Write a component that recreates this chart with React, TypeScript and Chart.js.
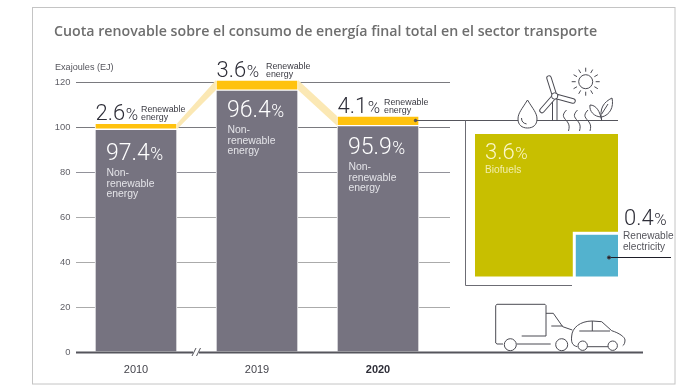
import React, { useEffect, useRef } from "react";
import { Chart, registerables } from "chart.js";

Chart.register(...registerables);

const titleText = "Cuota renovable sobre el consumo de energía final total en el sector transporte";
const unitLabel = "Exajoules (EJ)";
const years = ["2010", "2019", "2020"];
const nonRenewableEJ = [99, 116.4, 100.6];
const renewableEJ = [2.6, 4.5, 4.3];
const renewableShare = ["2.6", "3.6", "4.1"];
const nonRenewableShare = ["97.4", "96.4", "95.9"];
const yTicks = [0, 20, 40, 60, 80, 100, 120];
const biofuelShare = 3.6;
const electricityShare = 0.4;

const FONT = '"Liberation Sans", Arial, sans-serif';
const THIN = 'Roboto, "Liberation Sans", sans-serif';
const GREY = "#767380";
const YELLOW = "#FFC20E";
const BAND = "#FBE8B4";
const OLIVE = "#C8BF00";
const BLUE = "#53B2CE";
const DARK = "#2E2E38";
const LINE = "#4A4A52";

function pct(ctx: CanvasRenderingContext2D, value: string, x: number, y: number, size: number, color: string) {
  ctx.fillStyle = color;
  ctx.textAlign = "left";
  ctx.textBaseline = "alphabetic";
  ctx.font = `300 ${size}px ${THIN}`;
  ctx.fillText(value, x, y);
  const w = ctx.measureText(value).width;
  ctx.font = `300 ${size * 0.76}px ${THIN}`;
  ctx.fillText("%", x + w + 0.5, y);
}

function text(ctx: CanvasRenderingContext2D, s: string, x: number, y: number, font: string, color: string) {
  ctx.font = font;
  ctx.fillStyle = color;
  ctx.textAlign = "left";
  ctx.textBaseline = "alphabetic";
  ctx.fillText(s, x, y);
}

function stroke(ctx: CanvasRenderingContext2D, pts: number[][], color = LINE, w = 1) {
  ctx.strokeStyle = color;
  ctx.lineWidth = w;
  ctx.beginPath();
  pts.forEach((p, i) => (i ? ctx.lineTo(p[0], p[1]) : ctx.moveTo(p[0], p[1])));
  ctx.stroke();
}

function circle(ctx: CanvasRenderingContext2D, x: number, y: number, r: number, fill = "#fff") {
  ctx.beginPath();
  ctx.arc(x, y, r, 0, Math.PI * 2);
  ctx.fillStyle = fill;
  ctx.fill();
  ctx.strokeStyle = LINE;
  ctx.lineWidth = 1;
  ctx.stroke();
}

function drawEnergyIcons(ctx: CanvasRenderingContext2D) {
  ctx.save();
  ctx.beginPath();
  ctx.moveTo(527.5, 100);
  ctx.bezierCurveTo(522, 109, 518, 113, 518, 119);
  ctx.bezierCurveTo(518, 125, 522, 128, 527.5, 128);
  ctx.bezierCurveTo(533, 128, 537, 125, 537, 119);
  ctx.bezierCurveTo(537, 113, 533, 109, 527.5, 100);
  ctx.fillStyle = "#fff";
  ctx.fill();
  ctx.strokeStyle = LINE;
  ctx.lineWidth = 1;
  ctx.stroke();
  ctx.beginPath();
  ctx.arc(527.5, 118, 6, Math.PI * 0.55, Math.PI * 1.0);
  ctx.stroke();
  stroke(ctx, [[552.5, 99], [552.5, 120.5]]);
  stroke(ctx, [[557, 99], [557, 120.5]]);
  const blades = [[549, 78], [573, 101], [542, 110.5]];
  blades.forEach(([bx, by]) => {
    ctx.lineCap = "round";
    stroke(ctx, [[554.7, 96], [bx, by]], LINE, 5.5);
    stroke(ctx, [[554.7, 96], [bx, by]], "#fff", 3.5);
  });
  circle(ctx, 554.7, 96, 3.2);
  ctx.lineCap = "butt";
  ctx.beginPath();
  ctx.arc(585.7, 81.7, 7, 0, Math.PI * 2);
  ctx.strokeStyle = LINE;
  ctx.lineWidth = 1;
  ctx.stroke();
  for (let i = 0; i < 12; i++) {
    const a = (i * Math.PI) / 6 + Math.PI / 2;
    stroke(ctx, [
      [585.7 + Math.cos(a) * 10, 81.7 + Math.sin(a) * 10],
      [585.7 + Math.cos(a) * 14, 81.7 + Math.sin(a) * 14],
    ]);
  }
  [566.5, 577.5, 588].forEach((x) => {
    ctx.beginPath();
    ctx.moveTo(x, 110);
    ctx.bezierCurveTo(x - 6, 116, x - 2, 118, x + 1, 122);
    ctx.bezierCurveTo(x + 3, 125, x + 3, 127, x + 2, 131);
    ctx.strokeStyle = LINE;
    ctx.lineWidth = 1;
    ctx.stroke();
  });
  ctx.beginPath();
  ctx.moveTo(601.7, 120.5);
  ctx.bezierCurveTo(599, 108, 604, 102, 612, 98);
  ctx.bezierCurveTo(614, 107, 610, 115, 601.7, 117);
  ctx.moveTo(601.7, 120.5);
  ctx.bezierCurveTo(600, 111, 596, 105, 590, 105);
  ctx.bezierCurveTo(589, 111, 594, 117, 601.7, 117);
  ctx.moveTo(601.7, 114);
  ctx.lineTo(608, 104);
  ctx.strokeStyle = LINE;
  ctx.stroke();
  ctx.restore();
}

function drawVehicles(ctx: CanvasRenderingContext2D) {
  ctx.save();
  ctx.lineJoin = "round";
  stroke(ctx, [[521.7, 336], [546, 336], [546, 305.5], [545, 304.3], [497, 304.3], [495.7, 305.5], [495.7, 343], [497, 344], [503, 344]]);
  stroke(ctx, [[516.7, 344], [550.7, 344]]);
  stroke(ctx, [[546, 313.3], [553.3, 313.3], [562.7, 326.7], [572.3, 330]]);
  stroke(ctx, [[551.3, 326], [562.7, 326]]);
  circle(ctx, 510.3, 344.7, 6);
  circle(ctx, 561.7, 344.7, 6);
  ctx.beginPath();
  ctx.moveTo(577.3, 346.7);
  ctx.bezierCurveTo(572, 345.5, 571, 342, 571.7, 336);
  ctx.bezierCurveTo(572, 328, 580, 321, 592.3, 321);
  ctx.lineTo(601.7, 321.7);
  ctx.lineTo(611.7, 330.7);
  ctx.bezierCurveTo(619, 333, 625, 337, 625, 340);
  ctx.bezierCurveTo(625, 343, 624, 345, 622.7, 345.7);
  ctx.strokeStyle = LINE;
  ctx.lineWidth = 1;
  ctx.stroke();
  stroke(ctx, [[587.3, 346.7], [608.3, 346.7]]);
  stroke(ctx, [[592.3, 321], [592.3, 331]]);
  stroke(ctx, [[579.3, 331], [610, 331]]);
  circle(ctx, 582.7, 345.7, 4.7);
  circle(ctx, 612.7, 345.7, 4.7);
  ctx.restore();
}

const underlay = {
  id: "underlay",
  beforeDatasetsDraw(chart: any) {
    const { ctx, scales } = chart;
    const y = scales.y;
    const x = scales.x;
    ctx.save();
    ctx.strokeStyle = "#C4C4C4";
    ctx.lineWidth = 1;
    ctx.strokeRect(32.5, 7.5, 642.5, 376.5);

    yTicks.slice(1).forEach((v) => {
      const py = Math.round(y.getPixelForValue(v)) + 0.5;
      const color = v >= 100 ? "#7A7A7F" : v === 80 ? "#92929A" : "#ABABAB";
      stroke(ctx, [[76, py], [450, py]], color, v >= 100 ? 1 : 1.2);
    });

    const half = 40;
    for (let i = 0; i < years.length - 1; i++) {
      const x0 = x.getPixelForValue(i) + half + 1;
      const x1 = x.getPixelForValue(i + 1) - half - 1;
      const top0 = y.getPixelForValue(nonRenewableEJ[i] + renewableEJ[i]);
      const bot0 = y.getPixelForValue(nonRenewableEJ[i]);
      const top1 = y.getPixelForValue(nonRenewableEJ[i + 1] + renewableEJ[i + 1]);
      const bot1 = y.getPixelForValue(nonRenewableEJ[i + 1]);
      ctx.beginPath();
      ctx.moveTo(x0, top0);
      ctx.lineTo(x1, top1);
      ctx.lineTo(x1, bot1);
      ctx.lineTo(x0, bot0);
      ctx.closePath();
      ctx.fillStyle = BAND;
      ctx.fill();
    }
    ctx.restore();
  },
};

const overlay = {
  id: "overlay",
  afterDraw(chart: any) {
    const { ctx, scales } = chart;
    const y = scales.y;
    const x = scales.x;
    ctx.save();

    text(ctx, titleText, 54, 36, `600 14.2px "Open Sans", sans-serif`, "#6E6E6E");
    text(ctx, unitLabel, 55, 70, `9.1px ${FONT}`, "#55555C");

    const base = y.getPixelForValue(0);
    stroke(ctx, [[76, base + 0.5], [643, base + 0.5]], "#55555C", 2);
    ctx.fillStyle = "#fff";
    ctx.fillRect(193, base - 5, 6, 10);
    stroke(ctx, [[192, base + 4], [196, base - 4]], "#55555C", 1);
    stroke(ctx, [[196.5, base + 4], [200.5, base - 4]], "#55555C", 1);

    const renewableLabelOffset = [45, 49, 46];
    const shareBaselineOffset = [31, 27, 28.5];
    years.forEach((_, i) => {
      const left = x.getPixelForValue(i) - 40;
      const top = y.getPixelForValue(nonRenewableEJ[i] + renewableEJ[i]);
      const greyTop = y.getPixelForValue(nonRenewableEJ[i]);
      pct(ctx, renewableShare[i], left - 0.5, top - 3, 22, DARK);
      const lx = left + renewableLabelOffset[i];
      text(ctx, "Renewable", lx, top - 11, `8.9px ${FONT}`, "#3A3A42");
      text(ctx, "energy", lx, top - 3, `8.9px ${FONT}`, "#3A3A42");
      const by = greyTop + shareBaselineOffset[i];
      pct(ctx, nonRenewableShare[i], left + 10, by, 23, "#FFFFFF");
      const c = "#E4E4E8";
      const f = `10.4px ${FONT}`;
      text(ctx, "Non-", left + 10.5, by + 15.5, f, c);
      text(ctx, "renewable", left + 10.5, by + 26.5, f, c);
      text(ctx, "energy", left + 10.5, by + 37, f, c);
    });

    const ly = Math.floor(y.getPixelForValue(nonRenewableEJ[2] + renewableEJ[2] / 2)) + 0.5;
    stroke(ctx, [[415, ly], [618, ly]], "#55555C", 1);
    circle(ctx, 415.5, ly, 1.2, "#55555C");
    stroke(ctx, [[465.5, ly], [465.5, 285.5], [572, 285.5]], "#6C6C74", 1);

    drawEnergyIcons(ctx);
    drawVehicles(ctx);

    const unit = 143 / Math.sqrt(biofuelShare + electricityShare);
    const side = unit * Math.sqrt(biofuelShare + electricityShare);
    const small = unit * Math.sqrt(electricityShare);
    const sx = 475, sy = 134;
    ctx.fillStyle = OLIVE;
    ctx.fillRect(sx, sy, side, side - 0.5);
    ctx.fillStyle = "#fff";
    ctx.fillRect(sx + side - small, sy + side - small, small, small);
    ctx.fillStyle = BLUE;
    ctx.fillRect(sx + side - small + 3, sy + side - small + 3, small - 3, small - 3.5);

    pct(ctx, String(biofuelShare), 485, 159, 22, "#FBF7C8");
    text(ctx, "Biofuels", 485, 172.7, `10.2px ${FONT}`, "#F2EEAA");
    pct(ctx, String(electricityShare), 624, 225, 22, DARK);
    text(ctx, "Renewable", 623, 238.7, `10.1px ${FONT}`, "#55555C");
    text(ctx, "electricity", 623, 250, `10.1px ${FONT}`, "#55555C");
    stroke(ctx, [[609, 257.5], [671, 257.5]], "#1E1E28", 1);
    circle(ctx, 609, 257.5, 1.6, "#1E1E28");

    ctx.restore();
  },
};

export default function App() {
  const ref = useRef<HTMLCanvasElement>(null);
  useEffect(() => {
    document.body.style.margin = "0";
    const chart = new Chart(ref.current!, {
      type: "bar",
      data: {
        labels: years,
        datasets: [
          {
            label: "Non-renewable energy",
            data: nonRenewableEJ,
            backgroundColor: GREY,
            borderColor: "#fff",
            borderWidth: 1,
            borderSkipped: false,
            barThickness: 82,
            stack: "s",
            clip: false,
          },
          {
            label: "Renewable energy",
            data: renewableEJ,
            backgroundColor: YELLOW,
            borderColor: "#fff",
            borderWidth: 1,
            borderSkipped: false,
            barThickness: 82,
            stack: "s",
            clip: false,
          },
        ],
      },
      options: {
        responsive: false,
        animation: false,
        layout: { padding: { left: 0, right: 242.5, top: 82, bottom: 0 } },
        plugins: { legend: { display: false }, tooltip: { enabled: false } },
        scales: {
          x: {
            stacked: true,
            grid: { display: false },
            border: { display: false },
            afterFit: (s: any) => { s.height = 37; },
            ticks: {
              padding: 3,
              maxRotation: 0,
              color: (c: any) => (c.index === 2 ? "#2E2E38" : "#44444C"),
              font: (c: any) => ({ family: FONT, size: 11, weight: c.index === 2 ? "bold" : "normal" }),
            },
          },
          y: {
            stacked: true,
            min: 0,
            max: 120,
            grid: { display: false, drawTicks: false },
            border: { display: false },
            afterFit: (s: any) => { s.width = 75.5; },
            afterBuildTicks: (s: any) => { s.ticks = yTicks.map((value) => ({ value })); },
            ticks: { padding: 5, color: "#5F5F66", font: { family: FONT, size: 9.4 } },
          },
        },
      },
      plugins: [underlay, overlay],
    } as any);
    return () => chart.destroy();
  }, []);
  return (
    <div style={{ position: "absolute", left: 0, top: 0, width: 681, height: 389, background: "#fff" }}>
      <canvas ref={ref} width={681} height={389} style={{ display: "block" }} />
    </div>
  );
}
